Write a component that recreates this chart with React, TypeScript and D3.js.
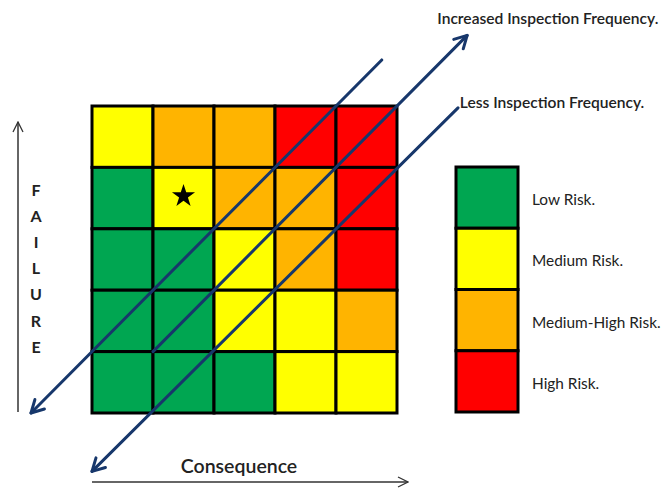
import React from 'react';
import * as d3 from 'd3';

// risk categories, shown in the legend top to bottom
const riskLevels = ["Low Risk.", "Medium Risk.", "Medium-High Risk.", "High Risk."];
const riskColors = ["#00A651", "#FFFF00", "#FFB400", "#FF0000"];

// rows from high failure (top) to low failure (bottom), columns by consequence
const failureRows = [5, 4, 3, 2, 1];
const consequenceCols = [1, 2, 3, 4, 5];
const riskMatrix = [
    [1, 2, 2, 3, 3],
    [0, 1, 2, 2, 3],
    [0, 0, 1, 2, 3],
    [0, 0, 1, 1, 2],
    [0, 0, 0, 1, 1],
];
const starCell = { failure: 4, consequence: 2 };

// diagonal guide lines in grid units (consequence, failure), with which end has an arrow
const guideLines = [
    { from: [-1, 0], to: [4.75, 5.75], arrow: "start" },
    { from: [1, 1], to: [6.15, 6.15], arrow: "end" },
    { from: [0, -0.95], to: [6, 4.97], arrow: "start" },
];
const guideLabels = [
    { text: "Increased Inspection Frequency.", at: [5.66, 6.42] },
    { text: "Less Inspection Frequency.", at: [6.03, 5.05] },
];

const axisLabelX = "Consequence";
const axisLabelY = "FAILURE";

const W = 667;
const H = 491;
const navy = "#17376B";
const font = "Lato, 'Open Sans', sans-serif";

const App: React.FC = () => {
    const col = d3.scaleBand<number>().domain(consequenceCols).range([92, 397]);
    const row = d3.scaleBand<number>().domain(failureRows).range([106, 413]);
    const gx = d3.scaleLinear().domain([0, 5]).range([92, 397]);
    const gy = d3.scaleLinear().domain([0, 5]).range([413, 106]);

    const legendY = d3.scaleBand<string>().domain(riskLevels).range([167, 412]);
    const star = d3.symbol().type(d3.symbolStar).size(165)();
    const line = d3.line<number[]>().x(d => gx(d[0])).y(d => gy(d[1]));

    // open chevron at point p, pointing away from point q
    const chevron = (p: number[], q: number[]) => {
        const x0 = gx(p[0]), y0 = gy(p[1]);
        const a = Math.atan2(y0 - gy(q[1]), x0 - gx(q[0]));
        const L = 14, s = 0.5;
        return `M${x0 - L * Math.cos(a - s)},${y0 - L * Math.sin(a - s)}L${x0},${y0}L${x0 - L * Math.cos(a + s)},${y0 - L * Math.sin(a + s)}`;
    };

    return (
        <svg width={W} height={H} style={{ position: "absolute", left: 0, top: 0, background: "white" }}>
            <defs>
                <marker id="open" viewBox="0 0 12 12" refX="11" refY="6" markerWidth="12" markerHeight="12"
                    markerUnits="userSpaceOnUse" orient="auto">
                    <path d="M1,1L11,6L1,11" fill="none" stroke="#333" strokeWidth="1.3" />
                </marker>
            </defs>

            {/* matrix */}
            <g>
                {failureRows.map((f, i) =>
                    consequenceCols.map((c, j) => (
                        <rect key={`${f}-${c}`} x={col(c)} y={row(f)} width={col.bandwidth()} height={row.bandwidth()}
                            fill={riskColors[riskMatrix[i][j]]} stroke="#000" strokeWidth={3} />
                    ))
                )}
                <path d={star} fill="#000"
                    transform={`translate(${col(starCell.consequence)! + col.bandwidth() / 2},${row(starCell.failure)! + row.bandwidth() / 2 - 2})`} />
            </g>

            {/* guide lines */}
            <g stroke={navy} strokeWidth={3} fill="none" strokeLinecap="round" strokeLinejoin="round">
                {guideLines.map((g, i) => (
                    <g key={i}>
                        <path d={line([g.from, g.to]) || ""} />
                        <path d={g.arrow === "start" ? chevron(g.from, g.to) : chevron(g.to, g.from)} />
                    </g>
                ))}
            </g>
            {guideLabels.map((l, i) => (
                <text key={i} x={gx(l.at[0])} y={gy(l.at[1])} dy="0.35em" fontFamily={font} fontSize={15.6}
                    fill="#222" fontWeight={600}>{l.text}</text>
            ))}

            {/* legend */}
            <g>
                {riskLevels.map((r, i) => (
                    <g key={r}>
                        <rect x={456} y={legendY(r)} width={62} height={legendY.bandwidth()} fill={riskColors[i]}
                            stroke="#000" strokeWidth={3} />
                        <text x={532} y={legendY(r)! + legendY.bandwidth() / 2 + 2} dy="0.35em" fontFamily={font}
                            fontSize={15.4} fill="#222">{r}</text>
                    </g>
                ))}
            </g>

            {/* axes */}
            <line x1={18} x2={18} y1={412} y2={122} stroke="#333" strokeWidth={1.5} markerEnd="url(#open)" />
            <line x1={92} x2={408} y1={482} y2={482} stroke="#333" strokeWidth={1.5} markerEnd="url(#open)" />
            <text x={239} y={466} dy="0.35em" textAnchor="middle" fontFamily={font} fontSize={19.5} fill="#222"
                fontWeight={600}>{axisLabelX}</text>
            {axisLabelY.split("").map((ch, i) => (
                <text key={i} x={36} y={190 + i * 26.2} dy="0.35em" textAnchor="middle" fontFamily={font}
                    fontSize={16} fontWeight={700} fill="#222">{ch}</text>
            ))}
        </svg>
    );
};

export default App;
